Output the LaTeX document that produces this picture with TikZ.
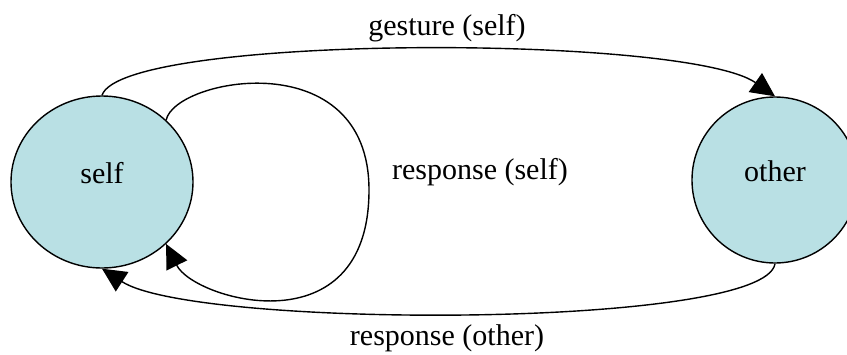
\documentclass[tikz,border=0pt]{standalone}
\usepackage{fontspec}
\setmainfont{Liberation Serif}
\usetikzlibrary{shapes.geometric,arrows.meta}
\definecolor{statefill}{RGB}{185,224,228}
\tikzset{
  state/.style={draw=black, line width=1.4pt, fill=statefill, inner sep=0pt},
  arc/.style={draw=black, line width=1.4pt, -{Triangle[length=24pt,width=23pt]}},
  lbl/.style={inner sep=0pt}
}
\begin{document}
\begin{tikzpicture}[x=1pt,y=-1pt, font=\fontsize{30}{34}\selectfont]
\useasboundingbox (0,0) rectangle (847,354);
% states
\node[state, ellipse, minimum width=182pt, minimum height=172pt] (self) at (102,182) {\raisebox{18pt}{self}};
\node[state, circle, minimum size=166pt] (other) at (775,180) {\raisebox{18pt}{other}};
% transitions
\draw[arc] (self.north) .. controls (122,34) and (686,34) .. (other.north);
\draw[arc] (other.south) .. controls (765,329) and (195,329) .. (self.south);
\coordinate (loopR) at (369,190);
\draw[arc] (self.44) .. controls (175,78) and (369,42) .. (loopR)
  .. controls (369,350) and (194,300) .. (self.-44);
% labels
\node[lbl] (lg) at (447,28) {gesture (self)};
\node[lbl] (lro) at (447,338) {response (other)};
\node[lbl] (lrs) at (480,172) {response (self)};
\end{tikzpicture}
\end{document}
